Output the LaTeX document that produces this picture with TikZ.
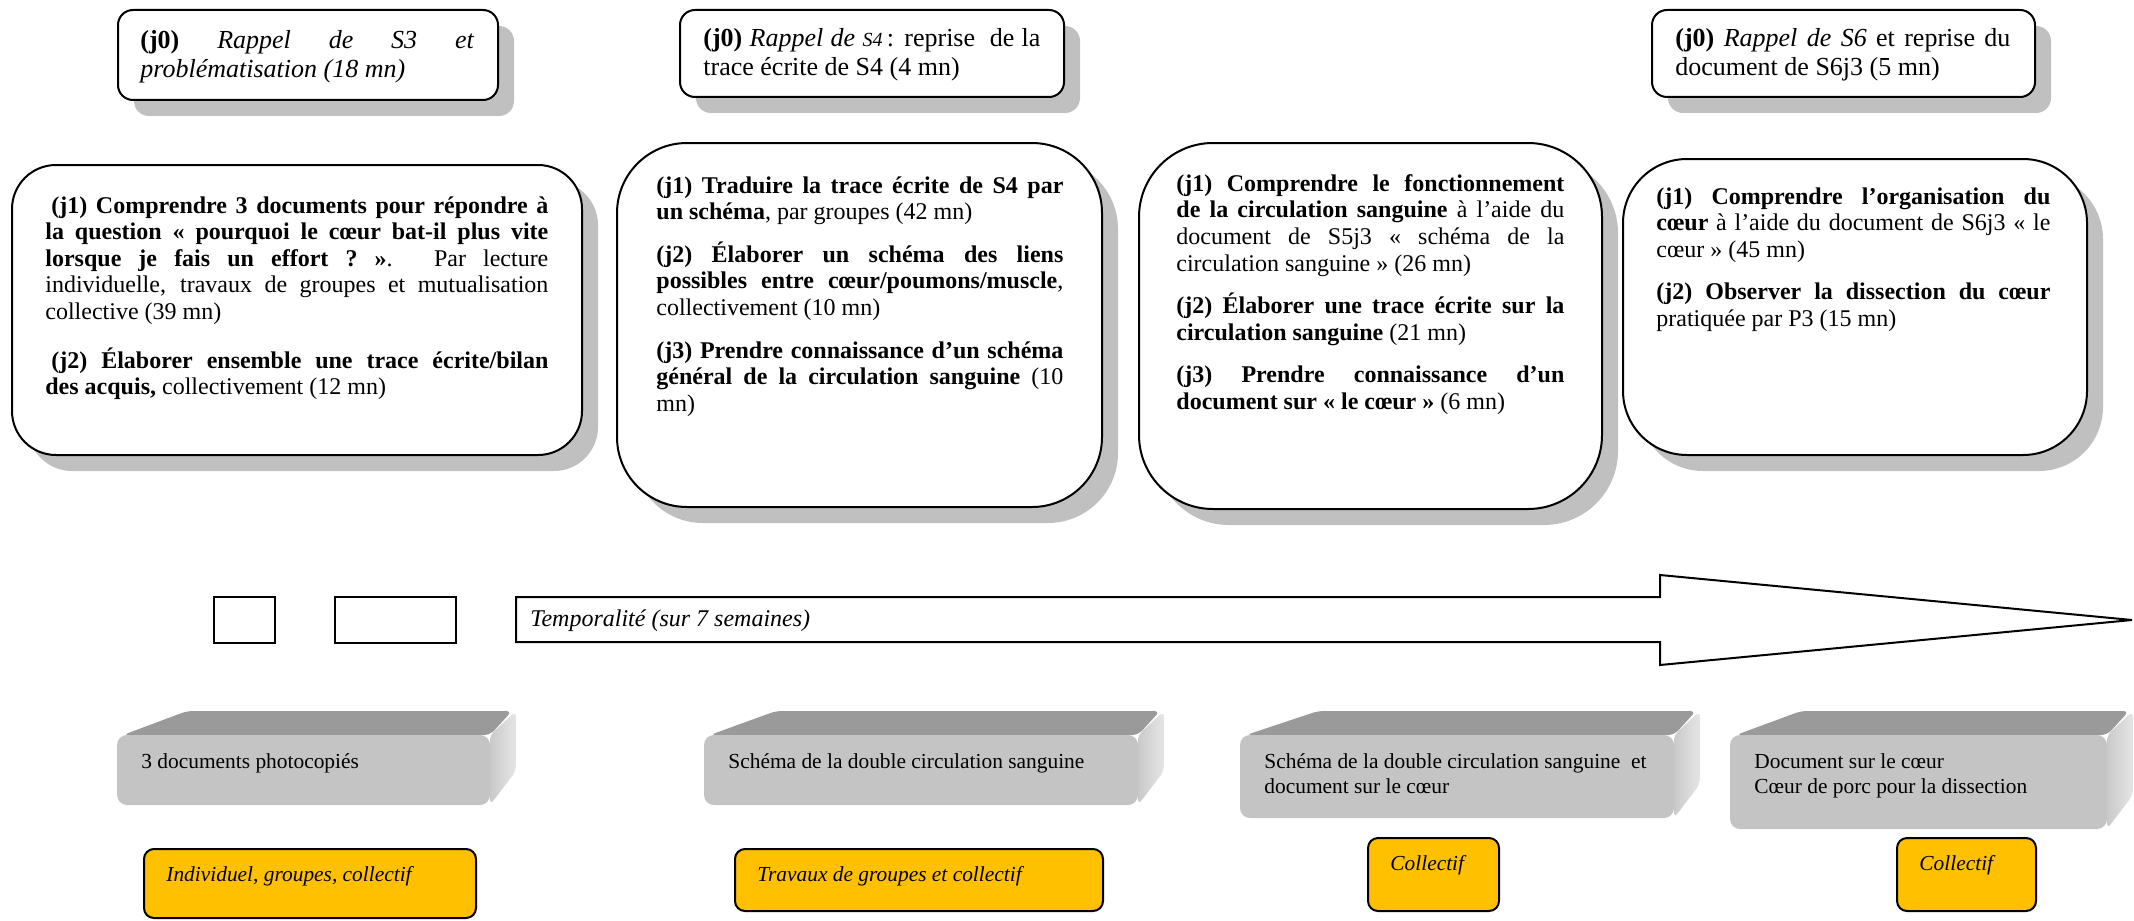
\documentclass[tikz,border=0pt]{standalone}
\usepackage{fontspec}
\setmainfont{Liberation Serif}
\usetikzlibrary{shadows}
\setlength{\parindent}{0pt}

\begin{document}
\begin{tikzpicture}[x=0.5pt,y=-0.5pt,font=\fontsize{12}{13.3}\selectfont,
  jbox/.style={draw=ink,line width=1pt,fill=white,inner sep=0pt,
    drop shadow={shadow xshift=8pt,shadow yshift=-8pt,fill=shade,opacity=1}},
  jtext/.style={anchor=north west,inner sep=0pt,align=justify},
  rappel/.style={jtext,font=\fontsize{13}{14.5}\selectfont},
  tinybox/.style={draw=ink,line width=1pt,inner sep=0pt,minimum height=23pt},
  tagbox/.style={draw=ink,line width=1pt,fill=tag,rounded corners=5pt},
  smalltxt/.style={inner sep=0pt,font=\fontsize{10.7}{12.5}\selectfont}]
  \definecolor{ink}{HTML}{000000}
  \definecolor{shade}{HTML}{C0C0C0}
  \definecolor{tag}{HTML}{FFC000}
  \definecolor{lid}{HTML}{9A9A9A}
  \definecolor{front}{HTML}{C4C4C4}
  \path[use as bounding box] (0,0) rectangle (2134,920);

  % (j0) recalls
  \node[jbox,rounded corners=7.5pt,minimum width=190pt,minimum height=45pt] (rappelA) at (308,55) {};
  \node[rappel,text width=167pt] (rappelA-txt) at ([shift={(23,21)}]rappelA.north west)
    {\textbf{(j0)} \textit{Rappel de S3 et}\linebreak\textit{problématisation (18 mn)}};
  \node[jbox,rounded corners=7.5pt,minimum width=192pt,minimum height=43.5pt] (rappelB) at (872,53.5) {};
  \node[rappel,text width=168.5pt] (rappelB-txt) at ([shift={(24,19)}]rappelB.north west)
    {\textbf{(j0)} \textit{Rappel de {\fontsize{10}{12}\selectfont S4}}\,: reprise\ \ de la\linebreak trace écrite de S4 (4 mn)};
  \node[jbox,rounded corners=7.5pt,minimum width=191.5pt,minimum height=43.5pt] (rappelC) at (1843.5,53.5) {};
  \node[rappel,text width=167.5pt] (rappelC-txt) at ([shift={(24,19)}]rappelC.north west)
    {\textbf{(j0)} \textit{Rappel de S6} et reprise du\linebreak document de S6j3 (5 mn)};

  % (j1)... sessions
  \node[jbox,rounded corners=22pt,minimum width=285pt,minimum height=145pt] (seanceA) at (297,310) {};
  \node[jtext,text width=251.5pt] (seanceA-txt) at ([shift={(34,32)}]seanceA.north west)
    {\hspace*{3pt}\textbf{(j1) Comprendre 3 documents pour répondre à}\linebreak
     \textbf{la question «~pourquoi le cœur bat-il plus vite}\linebreak
     \textbf{lorsque je fais un effort~?~»}. Par lecture\linebreak
     individuelle, travaux de groupes et mutualisation\linebreak
     collective (39 mn)\par\vspace{11pt}
     \hspace*{3pt}\textbf{(j2) Élaborer ensemble une trace écrite/bilan}\linebreak
     \textbf{des acquis,} collectivement (12 mn)};
  \node[jbox,rounded corners=35pt,minimum width=242.5pt,minimum height=182pt] (seanceB) at (859.5,325) {};
  \node[jtext,text width=203.5pt] (seanceB-txt) at ([shift={(40,34)}]seanceB.north west)
    {\textbf{(j1) Traduire la trace écrite de S4 par}\linebreak
     \textbf{un schéma}, par groupes (42 mn)\par\vspace{8pt}
     \textbf{(j2) Élaborer un schéma des liens}\linebreak
     \textbf{possibles entre cœur/poumons/muscle},\linebreak
     collectivement (10 mn)\par\vspace{8pt}
     \textbf{(j3) Prendre connaissance d'un schéma}\linebreak
     \textbf{général de la circulation sanguine} (10\linebreak
     mn)};
  \node[jbox,rounded corners=37pt,minimum width=231.5pt,minimum height=183pt] (seanceC) at (1370.5,326) {};
  \node[jtext,text width=194pt] (seanceC-txt) at ([shift={(38,32)}]seanceC.north west)
    {\textbf{(j1) Comprendre le fonctionnement}\linebreak
     \textbf{de la circulation sanguine} à l'aide du\linebreak
     document de S5j3 «~schéma de la\linebreak
     circulation sanguine~» (26 mn)\par\vspace{8pt}
     \textbf{(j2) Élaborer une trace écrite sur la}\linebreak
     \textbf{circulation sanguine} (21 mn)\par\vspace{8pt}
     \textbf{(j3) Prendre connaissance d'un}\linebreak
     \textbf{document sur «~le cœur~»} (6 mn)};
  \node[jbox,rounded corners=32pt,minimum width=232pt,minimum height=148pt] (seanceD) at (1855,307) {};
  \node[jtext,text width=197pt] (seanceD-txt) at ([shift={(34,29)}]seanceD.north west)
    {\textbf{(j1) Comprendre l'organisation du}\linebreak
     \textbf{cœur} à l'aide du document de S6j3 «~le\linebreak
     cœur~» (45 mn)\par\vspace{8pt}
     \textbf{(j2) Observer la dissection du cœur}\linebreak
     pratiquée par P3 (15 mn)};

  % timeline
  \node[tinybox,minimum width=30.5pt] (caseA) at (244.5,620) {};
  \node[tinybox,minimum width=60.5pt] (caseB) at (395.5,620) {};
  \draw[ink,line width=1pt] (516,597) -- (1660,597) -- (1660,575) -- (2132,620)
    -- (1660,665) -- (1660,642) -- (516,642) -- cycle;
  \node[anchor=base west,inner sep=0pt,font=\itshape\fontsize{12}{13.3}\selectfont] (duree) at (530,626)
    {Temporalité (sur 7 semaines)};

  % material blocks
  \foreach \xl/\xr/\yb/\dl/\nm/\lines in {
    117/490/805/70/materielA/{3 documents photocopiés},
    704/1138/805/72/materielB/{Schéma de la double circulation sanguine},
    1240/1674/818/78/materielC/{Schéma de la double circulation sanguine\ \ et\\document sur le cœur},
    1730/2107/829/71/materielD/{Document sur le cœur\\Cœur de porc pour la dissection}}{
    \shade[left color=black!21,right color=black!10,rounded corners=3pt]
      (\xr,735) -- (\xr+26,711) -- (\xr+26,\yb-34) -- (\xr,\yb) -- cycle;
    \fill[lid,rounded corners=3pt] (\xl+6,735) -- (\xl+\dl,711) -- (\xr+22,711) -- (\xr,735) -- cycle;
    \fill[front,rounded corners=5pt] (\xl,735) rectangle (\xr,\yb);
    \node[smalltxt,anchor=north west,align=left] (\nm) at (\xl+24,753) {\lines};
  }

  % working modes
  \foreach \xl/\xr/\yt/\yb/\nm/\txt in {
    144/476/849/918/modeA/{Individuel, groupes, collectif},
    735/1103/849/911/modeB/{Travaux de groupes et collectif},
    1368/1499/838/911/modeC/{Collectif},
    1897/2036/838/911/modeD/{Collectif}}{
    \draw[tagbox] (\xl,\yt) rectangle (\xr,\yb);
    \node[smalltxt,anchor=base west,font=\itshape\fontsize{10.7}{12.5}\selectfont] (\nm) at (\xl+22,\yt+32) {\txt};
  }
\end{tikzpicture}
\end{document}
